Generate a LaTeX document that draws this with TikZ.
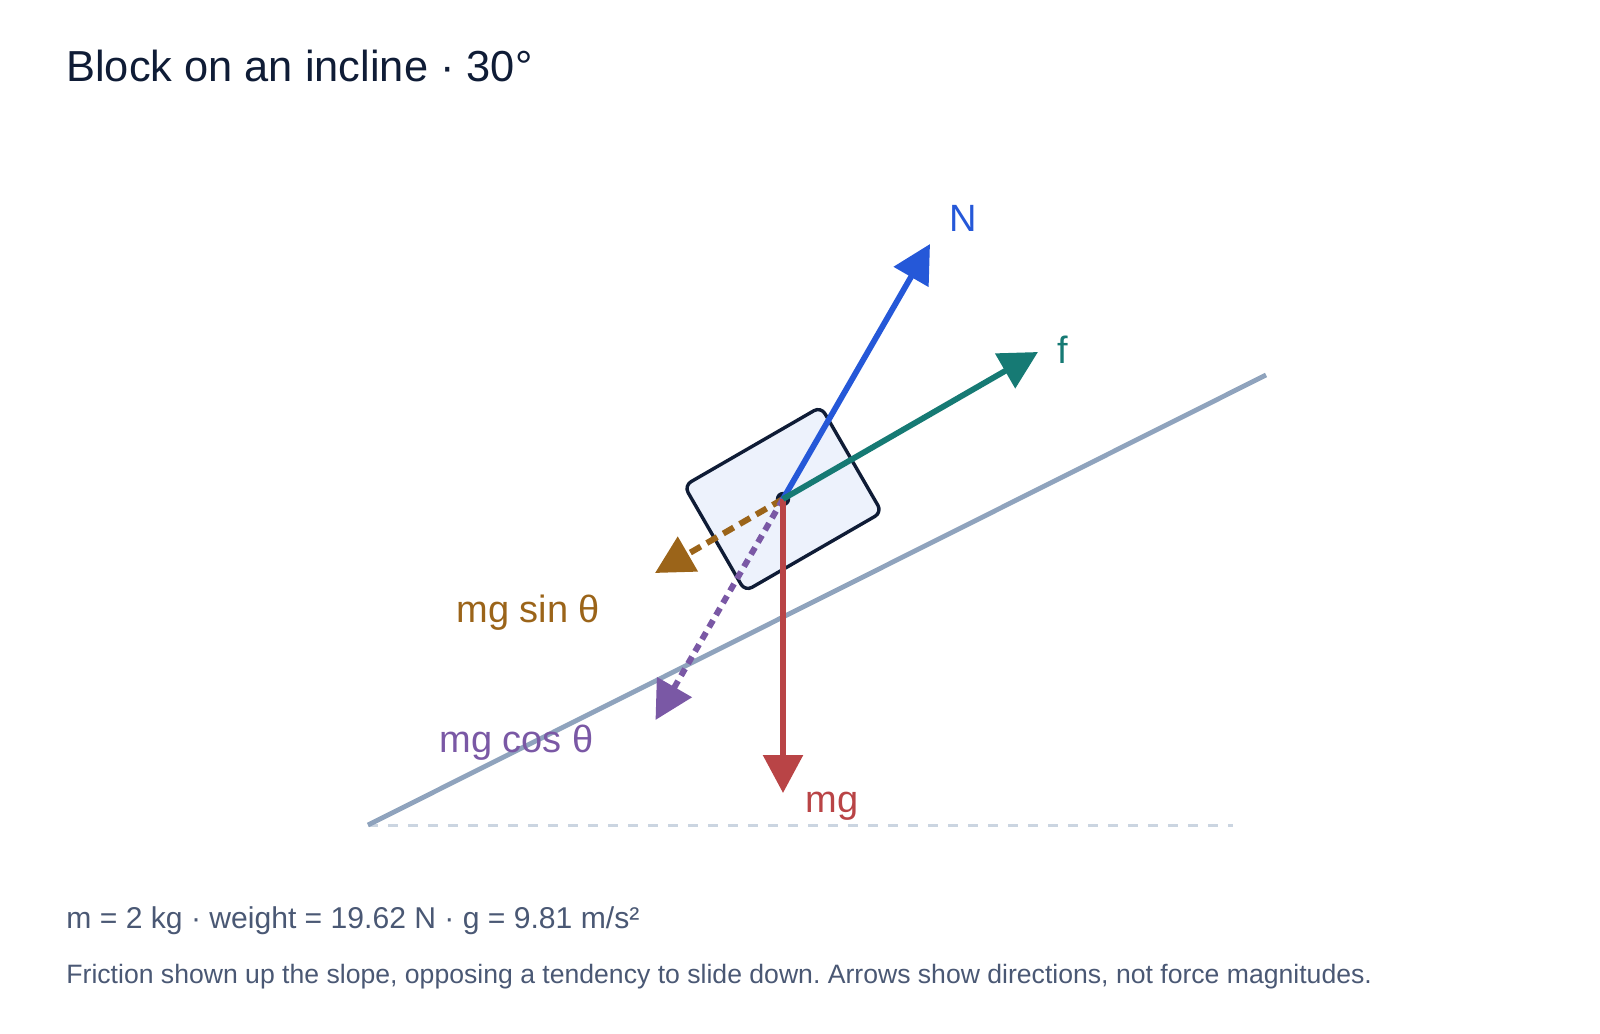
\documentclass[tikz,border=0pt]{standalone}
\usepackage{fontspec}
\setmainfont{Liberation Sans}
\frenchspacing
\usetikzlibrary{arrows.meta}
\definecolor{inkdark}{HTML}{0F1C36}
\definecolor{inkslate}{HTML}{4A5874}
\definecolor{slopegray}{HTML}{8FA3BD}
\definecolor{groundgray}{HTML}{CBD5E1}
\definecolor{blockfill}{HTML}{EDF2FC}
\definecolor{normalblue}{HTML}{2558D8}
\definecolor{frictionteal}{HTML}{167A74}
\definecolor{weightred}{HTML}{B94446}
\definecolor{sinbrown}{HTML}{9B6419}
\definecolor{cospurple}{HTML}{7A58A5}

\begin{document}
\begin{tikzpicture}[x=0.5pt,y=-0.5pt,
    force/.style={line width=2.9pt,-{Triangle[length=19pt,width=19.5pt]}},
    label/.style={anchor=base west,inner sep=0pt,font=\fontsize{19pt}{22pt}\selectfont},
    caption/.style={anchor=base west,inner sep=0pt,text=inkslate}]
  \useasboundingbox (0,0) rectangle (1600,1033);

  \node[anchor=base west,inner sep=0pt,text=inkdark,font=\fontsize{21.7pt}{25pt}\selectfont]
    (title) at (66,81) {Block on an incline · 30°};

  \coordinate (base) at (368,825);
  \coordinate (top) at (1266,375);
  \coordinate (groundend) at (1233,825);
  \draw[groundgray,line width=1.5pt,dash pattern=on 5pt off 5pt] (base) -- (groundend);
  \draw[slopegray,line width=2.4pt] (base) -- (top);

  \node[draw=inkdark,fill=blockfill,line width=1.7pt,rounded corners=4pt,
    minimum width=79pt,minimum height=61pt,rotate=30] (block) at (783,499) {};
  \coordinate (O) at (block.center);
  \fill[inkdark] (O) circle (3.6pt);

  \coordinate (tipN) at (930,244);
  \coordinate (tipF) at (1038,352);
  \coordinate (tipW) at (783,793);
  \coordinate (tipS) at (655,573);
  \coordinate (tipC) at (655.5,720);

  \draw[force,sinbrown,line width=3pt,dash pattern=on 6pt off 3.5pt] (O) -- (tipS);
  \draw[force,cospurple,line width=3pt,dash pattern=on 4pt off 3pt] (O) -- (tipC);
  \draw[force,weightred] (O) -- (tipW);
  \draw[force,normalblue] (O) -- (tipN);
  \draw[force,frictionteal] (O) -- (tipF);

  \node[label,text=normalblue] (labN) at (949,231) {N};
  \node[label,text=frictionteal] (labF) at (1057,363) {f};
  \node[label,text=sinbrown] (labS) at (456,622) {mg sin θ};
  \node[label,text=cospurple] (labC) at (439,752) {mg cos θ};
  \node[label,text=weightred] (labW) at (805,812) {mg};

  \node[caption,font=\fontsize{15.05pt}{17pt}\selectfont] (info) at (66,928)
    {m = 2 kg · weight = 19.62 N · g = 9.81 m/s²};
  \node[caption,font=\fontsize{13.3pt}{15pt}\selectfont] (note) at (66,983)
    {Friction shown up the slope, opposing a tendency to slide down. Arrows show directions, not force magnitudes.};
\end{tikzpicture}
\end{document}
